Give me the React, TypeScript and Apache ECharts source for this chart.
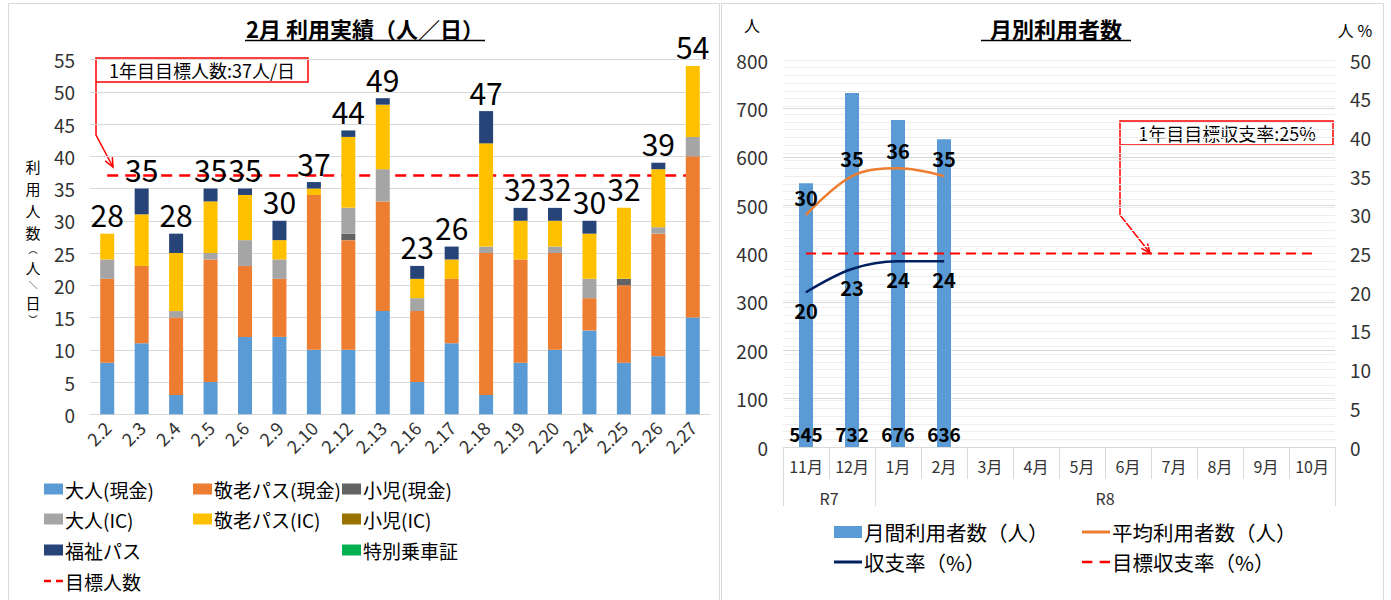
import React, { useEffect, useRef } from 'react';
import * as echarts from 'echarts';

const FONT = "'Noto Sans CJK JP', 'Noto Sans', sans-serif";

// ---- Left chart: daily ridership (Feb) ----
const dates = ['2.2', '2.3', '2.4', '2.5', '2.6', '2.9', '2.10', '2.12', '2.13', '2.16', '2.17', '2.18', '2.19', '2.20', '2.24', '2.25', '2.26', '2.27'];
const adultCash = [8, 11, 3, 5, 12, 12, 10, 10, 16, 5, 11, 3, 8, 10, 13, 8, 9, 15];
const seniorCash = [13, 12, 12, 19, 11, 9, 24, 17, 17, 11, 10, 22, 16, 15, 5, 12, 19, 25];
const childCash = [0, 0, 0, 0, 0, 0, 0, 1, 0, 0, 0, 0, 0, 0, 0, 1, 0, 0];
const adultIC = [3, 0, 1, 1, 4, 3, 0, 4, 5, 2, 0, 1, 0, 1, 3, 0, 1, 3];
const seniorIC = [4, 8, 9, 8, 7, 3, 1, 11, 10, 3, 3, 16, 6, 4, 7, 11, 9, 11];
const childIC = [0, 0, 0, 0, 0, 0, 0, 0, 0, 0, 0, 0, 0, 0, 0, 0, 0, 0];
const welfarePass = [0, 4, 3, 2, 1, 3, 1, 1, 1, 2, 2, 5, 2, 2, 2, 0, 1, 0];
const specialPass = [0, 0, 0, 0, 0, 0, 0, 0, 0, 0, 0, 0, 0, 0, 0, 0, 0, 0];
const totalLabels = [28, 35, 28, 35, 35, 30, 37, 44, 49, 23, 26, 47, 32, 32, 30, 32, 39, 54];
const targetRiders = [37, 37, 37, 37, 37, 37, 37, 37, 37, 37, 37, 37, 37, 37, 37, 37, 37, 37];
const leftTicks = { min: 0, max: 55, interval: 5 };

// ---- Right chart: monthly users ----
const months = ['11月', '12月', '1月', '2月', '3月', '4月', '5月', '6月', '7月', '8月', '9月', '10月'];
const fiscalGroups = ['R7', 'R8'];
const fiscalGroupSizes = [2, 10];
const monthlyUsers = [545, 732, 676, 636, null, null, null, null, null, null, null, null];
const avgUsers = [30, 35, 36, 35, null, null, null, null, null, null, null, null];
const recoveryRate = [20, 23, 24, 24, null, null, null, null, null, null, null, null];
const targetRate = [25, 25, 25, 25, 25, 25, 25, 25, 25, 25, 25, 25];
const rightLeftTicks = { min: 0, max: 800, interval: 100 };
const rightRightTicks = { min: 0, max: 50, interval: 5 };

const stackDefs = [
  { name: '大人(現金)', data: adultCash, color: '#5B9BD5' },
  { name: '敬老パス(現金)', data: seniorCash, color: '#ED7D31' },
  { name: '小児(現金)', data: childCash, color: '#636363' },
  { name: '大人(IC)', data: adultIC, color: '#A5A5A5' },
  { name: '敬老パス(IC)', data: seniorIC, color: '#FFC000' },
  { name: '小児(IC)', data: childIC, color: '#997300' },
  { name: '福祉パス', data: welfarePass, color: '#264478' },
  { name: '特別乗車証', data: specialPass, color: '#00B050' },
];

const stackTops = dates.map((_, i) => stackDefs.reduce((s, d) => s + (d.data[i] || 0), 0));

const groupBounds: number[] = [0];
fiscalGroupSizes.forEach((n) => groupBounds.push(groupBounds[groupBounds.length - 1] + n));
const groupCenters = fiscalGroupSizes.map((n, i) => groupBounds[i] + n / 2);

const ICON_SOLID = 'path://M0,0H28V3H0Z';
const ICON_DASH_R = 'path://M0,0H10V2.6H0ZM17,0H27V2.6H17Z';
const ICON_DASH_L = 'path://M0,0H7V2.6H0ZM12,0H19V2.6H12Z';

function lg(name: string, left: number, cy: number, fs: number, iw: number, ih: number, icon: string) {
  return {
    data: [name],
    left,
    top: cy - fs / 2 - 1,
    padding: 0,
    itemWidth: iw,
    itemHeight: ih,
    icon,
    selectedMode: false,
    textStyle: { fontSize: fs, color: '#000', fontFamily: FONT, padding: [0, 0, 0, -3] },
  };
}

function txt(text: string, x: number, y: number, fontSize: number, extra: any = {}) {
  return {
    type: 'text',
    x,
    y,
    silent: true,
    style: {
      text,
      fontSize,
      fontFamily: FONT,
      fill: '#000',
      align: 'center',
      verticalAlign: 'middle',
      ...extra,
    },
  };
}

function arrowHead(tipX: number, tipY: number, fromX: number, fromY: number) {
  const dx = tipX - fromX;
  const dy = tipY - fromY;
  const len = Math.sqrt(dx * dx + dy * dy);
  const ux = dx / len;
  const uy = dy / len;
  const bx = tipX - ux * 9;
  const by = tipY - uy * 9;
  const px = -uy * 4;
  const py = ux * 4;
  return {
    type: 'polyline',
    silent: true,
    shape: { points: [[bx + px, by + py], [tipX, tipY], [bx - px, by - py]] },
    style: { stroke: '#FF0000', lineWidth: 1.5, fill: 'none' },
  };
}

// vertical axis title: upright characters stacked, with small vertical brackets
const yNameParts = [
  { c: '利', s: 15, h: 21.8 },
  { c: '用', s: 15, h: 21.8 },
  { c: '人', s: 15, h: 21.8 },
  { c: '数', s: 15, h: 21.8 },
  { c: '︵', s: 9, h: 13.2 },
  { c: '人', s: 15, h: 21.8 },
  { c: '＼', s: 9, h: 13.2 },
  { c: '日', s: 15, h: 21.8 },
  { c: '︶', s: 9, h: 13.2 },
];
const yNameTop = 156;
const yNameEls = yNameParts.map((p, i) => {
  const y0 = yNameTop + yNameParts.slice(0, i).reduce((s, q) => s + q.h, 0);
  return txt(p.c, 33, y0 + p.h / 2, p.s);
});

const option: any = {
  animation: false,
  backgroundColor: '#fff',
  textStyle: { fontFamily: FONT },
  grid: [
    { left: 90, right: 1391 - 710, top: 59.5, bottom: 600 - 414.3 },
    { left: 783, right: 1391 - 1335, top: 60, bottom: 600 - 447 },
  ],
  xAxis: [
    {
      type: 'category',
      gridIndex: 0,
      data: dates,
      axisLine: { lineStyle: { color: '#D9D9D9', width: 1 } },
      axisTick: { show: false },
      axisLabel: { rotate: 45, fontSize: 18, color: '#333', margin: 10, interval: 0, fontFamily: FONT },
    },
    {
      type: 'category',
      gridIndex: 1,
      data: months,
      axisLine: { lineStyle: { color: '#D9D9D9' } },
      axisTick: { show: true, length: 32, lineStyle: { color: '#D9D9D9' } },
      axisLabel: { fontSize: 16, color: '#333', margin: 11, interval: 0, fontFamily: FONT },
    },
    {
      type: 'value',
      gridIndex: 1,
      min: 0,
      max: months.length,
      position: 'bottom',
      offset: 0,
      axisLine: { show: false },
      splitLine: { show: false },
      axisTick: { show: true, customValues: groupBounds, length: 59, lineStyle: { color: '#D9D9D9' } },
      axisLabel: {
        customValues: groupCenters,
        formatter: (v: number) => fiscalGroups[groupCenters.indexOf(v)] ?? '',
        fontSize: 16,
        color: '#333',
        margin: 43,
        fontFamily: FONT,
      },
    },
  ],
  yAxis: [
    {
      type: 'value',
      gridIndex: 0,
      ...leftTicks,
      axisLine: { show: false },
      axisTick: { show: false },
      splitLine: { lineStyle: { color: '#D9D9D9' } },
      axisLabel: { fontSize: 19, color: '#333', margin: 15, fontFamily: FONT },
    },
    {
      type: 'value',
      gridIndex: 1,
      ...rightLeftTicks,
      axisLine: { show: false },
      axisTick: { show: false },
      splitLine: { lineStyle: { color: '#D9D9D9' } },
      axisLabel: { fontSize: 19, color: '#333', margin: 15, fontFamily: FONT },
    },
    {
      type: 'value',
      gridIndex: 1,
      position: 'right',
      ...rightRightTicks,
      axisLine: { show: false },
      axisTick: { show: false },
      splitLine: { show: true, lineStyle: { color: '#ECECEC' } },
      minorTick: { show: false, splitNumber: 5 },
      minorSplitLine: { show: true, lineStyle: { color: '#EEEEEE' } },
      axisLabel: { fontSize: 19, color: '#333', margin: 15, fontFamily: FONT },
    },
  ],
  legend: [
    lg('大人(現金)', 44, 490, 19, 19, 11, 'rect'),
    lg('大人(IC)', 44, 520, 19, 19, 11, 'rect'),
    lg('福祉パス', 44, 551, 19, 19, 11, 'rect'),
    lg('目標人数', 44, 582, 19, 19, 11, ICON_DASH_L),
    lg('敬老パス(現金)', 193, 490, 19, 19, 11, 'rect'),
    lg('敬老パス(IC)', 193, 520, 19, 19, 11, 'rect'),
    lg('小児(現金)', 342, 490, 19, 19, 11, 'rect'),
    lg('小児(IC)', 342, 520, 19, 19, 11, 'rect'),
    lg('特別乗車証', 342, 551, 19, 19, 11, 'rect'),
    lg('月間利用者数（人）', 834, 533, 20.5, 28, 12, 'rect'),
    lg('平均利用者数（人）', 1082, 533, 20.5, 28, 12, ICON_SOLID),
    lg('収支率（%）', 834, 563, 20.5, 28, 12, ICON_SOLID),
    lg('目標収支率（%）', 1082, 563, 20.5, 28, 12, ICON_DASH_R),
  ],
  series: [
    {
      name: '目標人数',
      type: 'line',
      xAxisIndex: 0,
      yAxisIndex: 0,
      data: targetRiders,
      symbol: 'none',
      z: 1,
      itemStyle: { color: '#FF0000' },
      lineStyle: { color: '#FF0000', width: 2.5, type: [11, 7] },
    },
    ...stackDefs.map((d) => ({
      name: d.name,
      type: 'bar',
      stack: 'daily',
      xAxisIndex: 0,
      yAxisIndex: 0,
      barWidth: 14,
      z: 2,
      data: d.data,
      itemStyle: { color: d.color },
    })),
    {
      name: '合計',
      type: 'line',
      xAxisIndex: 0,
      yAxisIndex: 0,
      data: stackTops,
      symbol: 'circle',
      symbolSize: 1,
      z: 5,
      itemStyle: { color: 'rgba(0,0,0,0)' },
      lineStyle: { width: 0, opacity: 0 },
      label: {
        show: true,
        position: 'top',
        distance: 4,
        fontSize: 30,
        color: '#000',
        fontFamily: FONT,
        formatter: (p: any) => String(totalLabels[p.dataIndex]),
      },
    },
    {
      name: '月間利用者数（人）',
      type: 'bar',
      xAxisIndex: 1,
      yAxisIndex: 1,
      barWidth: 14,
      data: monthlyUsers,
      itemStyle: { color: '#5B9BD5' },
      label: {
        show: true,
        position: 'insideBottom',
        distance: 4,
        fontSize: 19,
        fontWeight: 'bold',
        color: '#000',
        fontFamily: FONT,
      },
    },
    {
      name: '平均利用者数（人）',
      type: 'line',
      xAxisIndex: 1,
      yAxisIndex: 2,
      data: avgUsers,
      symbol: 'circle',
      symbolSize: 1,
      smooth: 0.35,
      itemStyle: { color: '#ED7D31' },
      lineStyle: { color: '#ED7D31', width: 2.5 },
      label: { show: true, position: 'top', distance: 7, fontSize: 20, fontWeight: 'bold', color: '#000', fontFamily: FONT },
    },
    {
      name: '収支率（%）',
      type: 'line',
      xAxisIndex: 1,
      yAxisIndex: 2,
      data: recoveryRate,
      symbol: 'circle',
      symbolSize: 1,
      smooth: 0.35,
      itemStyle: { color: '#002060' },
      lineStyle: { color: '#002060', width: 2.5 },
      label: { show: true, position: 'bottom', distance: 8, fontSize: 20, fontWeight: 'bold', color: '#000', fontFamily: FONT },
    },
    {
      name: '目標収支率（%）',
      type: 'line',
      xAxisIndex: 1,
      yAxisIndex: 2,
      data: targetRate,
      symbol: 'none',
      itemStyle: { color: '#FF0000' },
      lineStyle: { color: '#FF0000', width: 2, type: [10, 6] },
    },
  ],
  graphic: [
    { type: 'rect', silent: true, shape: { x: 8.5, y: 3.5, width: 711, height: 620 }, style: { fill: 'none', stroke: '#D9D9D9', lineWidth: 1 } },
    { type: 'rect', silent: true, shape: { x: 721.5, y: 3.5, width: 662, height: 620 }, style: { fill: 'none', stroke: '#D9D9D9', lineWidth: 1 } },
    txt('2月 利用実績（人／日）', 365, 28, 22, { fontWeight: 'bold' }),
    { type: 'line', silent: true, shape: { x1: 245, y1: 40.5, x2: 485, y2: 40.5 }, style: { stroke: '#000', lineWidth: 1.5 } },
    txt('月別利用者数', 1056, 28, 22, { fontWeight: 'bold' }),
    { type: 'line', silent: true, shape: { x1: 981, y1: 40.5, x2: 1131, y2: 40.5 }, style: { stroke: '#000', lineWidth: 1.5 } },
    ...yNameEls,
    txt('人', 752, 25, 16),
    txt('人 %', 1355, 30, 16),
    { type: 'rect', silent: true, shape: { x: 96, y: 58, width: 212, height: 24 }, style: { fill: '#fff', stroke: '#FF0000', lineWidth: 1.5 } },
    txt('1年目目標人数:37人/日', 202, 70, 18),
    { type: 'polyline', silent: true, shape: { points: [[96, 82], [96, 135], [113, 167]] }, style: { stroke: '#FF0000', lineWidth: 1.5, fill: 'none' } },
    arrowHead(113, 167, 96, 135),
    { type: 'rect', silent: true, shape: { x: 1120, y: 121, width: 213, height: 24 }, style: { fill: '#fff', stroke: '#FF0000', lineWidth: 1.5 } },
    txt('1年目目標収支率:25%', 1227, 133, 18),
    { type: 'polyline', silent: true, shape: { points: [[1120, 145], [1120, 215], [1150, 253]] }, style: { stroke: '#FF0000', lineWidth: 1.5, fill: 'none' } },
    arrowHead(1150, 253, 1120, 215),
  ],
};

export default function App() {
  const ref = useRef<HTMLDivElement>(null);
  useEffect(() => {
    if (!ref.current) return;
    const chart = echarts.init(ref.current, null, { renderer: 'svg' });
    chart.setOption(option);
    return () => chart.dispose();
  }, []);
  return (
    <div
      ref={ref}
      style={{ position: 'fixed', left: 0, top: 0, width: 1391, height: 600, background: '#fff' }}
    />
  );
}
